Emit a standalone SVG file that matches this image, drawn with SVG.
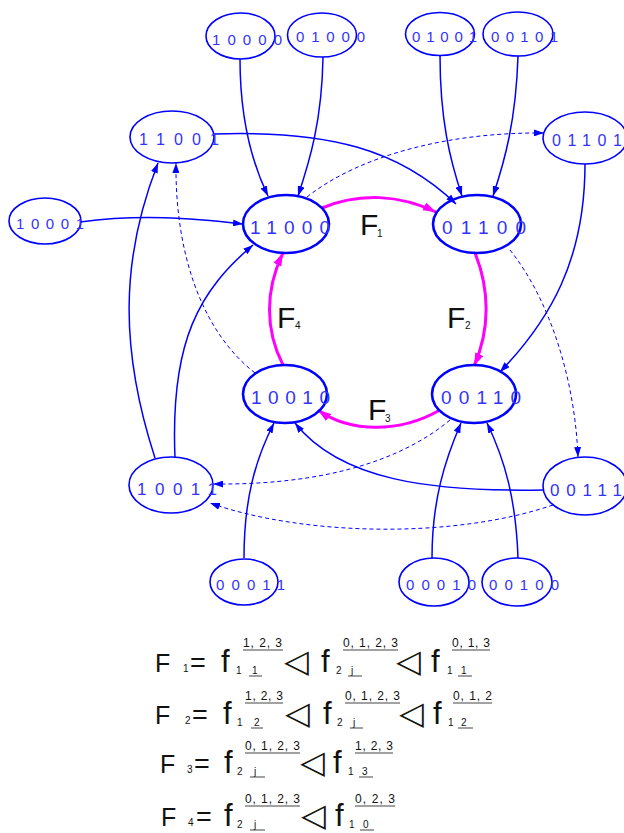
<svg xmlns="http://www.w3.org/2000/svg" width="624" height="833" viewBox="0 0 624 833">
<style>
.n{fill:none;stroke:#0000ff;stroke-width:1.6}
.nb{fill:none;stroke:#0000ff;stroke-width:2.6}
.l{font-family:"Liberation Sans",Arial,sans-serif;fill:#3333ff}
.e{fill:none;stroke:#0000ff;stroke-width:1.5}
.d{fill:none;stroke:#0000ff;stroke-width:1;stroke-dasharray:4,3}
.m{fill:none;stroke:#ff00ff;stroke-width:3}
.t{font-family:"Liberation Sans",Arial,sans-serif;fill:#111}
.u{stroke:#444;stroke-width:1}
.tri{font-family:"DejaVu Sans",sans-serif;fill:#111}
</style>
<defs>
<marker id="ab" viewBox="0 0 10 7" refX="10" refY="3.5" markerWidth="10" markerHeight="7" markerUnits="userSpaceOnUse" orient="auto"><path d="M0,0 L10,3.5 L0,7 z" fill="#0000ff"/></marker>
<marker id="am" viewBox="0 0 12 8" refX="12" refY="4" markerWidth="13" markerHeight="9" markerUnits="userSpaceOnUse" orient="auto"><path d="M0,0 L12,4 L0,8 z" fill="#ff00ff"/></marker>
</defs>
<g id="connectors">
<path class="e" marker-end="url(#ab)" d="M240,59 C240,120 253,165 268,196"/>
<path class="e" marker-end="url(#ab)" d="M323,57 C322,120 310,160 298,196"/>
<path class="e" marker-end="url(#ab)" d="M440,55 C440,120 450,160 462,196"/>
<path class="e" marker-end="url(#ab)" d="M518,56 C516,120 505,160 493,196"/>
<path class="e" marker-end="url(#ab)" d="M214,134 C330,130 400,150 456,204"/>
<path class="e" marker-end="url(#ab)" d="M80,222 C140,214 190,218 243,224"/>
<path class="e" marker-end="url(#ab)" d="M585,164 C585,260 550,320 500,372"/>
<path class="e" marker-end="url(#ab)" d="M155,458 C120,350 120,260 158,163"/>
<path class="e" marker-end="url(#ab)" d="M175,458 C170,340 200,290 253,245"/>
<path class="e" marker-end="url(#ab)" d="M244,558 C244,500 255,460 274,423"/>
<path class="e" marker-end="url(#ab)" d="M543,490 C430,492 340,480 295,423"/>
<path class="e" marker-end="url(#ab)" d="M432,558 C432,500 445,460 461,423"/>
<path class="e" marker-end="url(#ab)" d="M518,558 C516,500 505,460 487,423"/>
<path class="d" marker-end="url(#ab)" d="M307,197 C360,155 450,132 544,133"/>
<path class="d" marker-end="url(#ab)" d="M510,250 C550,300 575,380 578,457"/>
<path class="d" marker-end="url(#ab)" d="M255,373 C200,330 175,250 176,163"/>
<path class="d" marker-end="url(#ab)" d="M450,420 C390,470 300,485 213,484"/>
<path class="d" marker-end="url(#ab)" d="M553,505 C450,540 300,535 210,503"/>
<path class="m" marker-end="url(#am)" d="M322,208 C360,192 400,195 436,212"/>
<path class="m" marker-end="url(#am)" d="M475,253 C490,290 490,330 474,366"/>
<path class="m" marker-end="url(#am)" d="M440,410 C400,433 350,433 318,410"/>
<path class="m" marker-end="url(#am)" d="M283,365 C265,330 265,290 283,253"/>
</g>
<g id="n10000"><ellipse class="n" cx="240.5" cy="36" rx="34.5" ry="23"/><text class="l" x="212" y="45" font-size="15" textLength="70" lengthAdjust="spacing">10000</text></g>
<g id="n01000"><ellipse class="n" cx="322" cy="35" rx="34.5" ry="22"/><text class="l" x="296" y="42" font-size="15" textLength="69" lengthAdjust="spacing">01000</text></g>
<g id="n01001"><ellipse class="n" cx="440" cy="34" rx="34.5" ry="21.5"/><text class="l" x="412" y="42" font-size="15" textLength="65" lengthAdjust="spacing">01001</text></g>
<g id="n00101"><ellipse class="n" cx="518" cy="34" rx="35" ry="22"/><text class="l" x="491" y="42" font-size="15" textLength="67" lengthAdjust="spacing">00101</text></g>
<g id="n11001"><ellipse class="n" cx="172" cy="137" rx="42" ry="26"/><text class="l" x="139" y="145" font-size="16" textLength="80" lengthAdjust="spacing">11001</text></g>
<g id="n10001"><ellipse class="n" cx="45" cy="221" rx="36" ry="23"/><text class="l" x="16" y="229" font-size="15" textLength="68" lengthAdjust="spacing">10001</text></g>
<g id="n11000"><ellipse class="nb" cx="286" cy="224" rx="43" ry="29"/><text class="l" x="250" y="234" font-size="19" textLength="80" lengthAdjust="spacing">11000</text></g>
<g id="n01100"><ellipse class="nb" cx="477" cy="224" rx="44" ry="29"/><text class="l" x="442" y="234" font-size="19" textLength="84" lengthAdjust="spacing">01100</text></g>
<g id="n01101"><ellipse class="n" cx="585" cy="138" rx="42" ry="26"/><text class="l" x="552" y="146" font-size="16" textLength="70" lengthAdjust="spacing">01101</text></g>
<g id="n10010"><ellipse class="nb" cx="285" cy="394" rx="42" ry="29"/><text class="l" x="251" y="404" font-size="19" textLength="79" lengthAdjust="spacing">10010</text></g>
<g id="n00110"><ellipse class="nb" cx="474" cy="394" rx="42" ry="29"/><text class="l" x="441" y="404" font-size="19" textLength="80" lengthAdjust="spacing">00110</text></g>
<g id="n10011"><ellipse class="n" cx="171" cy="485" rx="42" ry="28"/><text class="l" x="137" y="495" font-size="17" textLength="80" lengthAdjust="spacing">10011</text></g>
<g id="n00011"><ellipse class="n" cx="244" cy="582" rx="34" ry="23"/><text class="l" x="216" y="590" font-size="15" textLength="69" lengthAdjust="spacing">00011</text></g>
<g id="n00111"><ellipse class="n" cx="585" cy="486" rx="42" ry="29"/><text class="l" x="550" y="496" font-size="17" textLength="72" lengthAdjust="spacing">00111</text></g>
<g id="n00010"><ellipse class="n" cx="434" cy="582" rx="35" ry="24"/><text class="l" x="406" y="590" font-size="15" textLength="70" lengthAdjust="spacing">00010</text></g>
<g id="n00100"><ellipse class="n" cx="517" cy="582" rx="35" ry="24"/><text class="l" x="489" y="590" font-size="15" textLength="70" lengthAdjust="spacing">00100</text></g>
<g id="labels">
<text class="t" x="360" y="235" font-size="30">F</text><text class="t" x="377" y="237" font-size="10">1</text>
<text class="t" x="447" y="328" font-size="30">F</text><text class="t" x="465" y="329" font-size="10">2</text>
<text class="t" x="368" y="420" font-size="30">F</text><text class="t" x="385" y="422" font-size="10">3</text>
<text class="t" x="277" y="328" font-size="30">F</text><text class="t" x="295" y="329" font-size="10">4</text>
</g>
<g id="formulas">
<text class="t" x="155" y="672" font-size="25">F</text><text class="t" x="183" y="672" font-size="10">1</text><text class="t" x="190" y="672" font-size="27">=</text>
<text class="t" x="221" y="672" font-size="31">f</text><text class="t" x="236" y="674" font-size="10">1</text><text class="t" x="252" y="674" font-size="10">1</text><line class="u" x1="249" y1="676" x2="262" y2="676"/>
<text class="t" x="243" y="647" font-size="12" textLength="39" lengthAdjust="spacing">1, 2, 3</text><line class="u" x1="243" y1="650" x2="283" y2="650"/>
<text class="tri" x="284" y="672" font-size="32">◁</text>
<text class="t" x="321" y="672" font-size="31">f</text><text class="t" x="336" y="674" font-size="10">2</text><text class="t" x="351" y="674" font-size="10">j</text><line class="u" x1="348" y1="676" x2="362" y2="676"/>
<text class="t" x="343" y="647" font-size="12" textLength="55" lengthAdjust="spacing">0, 1, 2, 3</text><line class="u" x1="343" y1="650" x2="398" y2="650"/>
<text class="tri" x="396" y="672" font-size="32">◁</text>
<text class="t" x="431" y="672" font-size="31">f</text><text class="t" x="447" y="674" font-size="10">1</text><text class="t" x="461" y="674" font-size="10">1</text><line class="u" x1="458" y1="676" x2="472" y2="676"/>
<text class="t" x="452" y="647" font-size="12" textLength="38" lengthAdjust="spacing">0, 1, 3</text><line class="u" x1="452" y1="650" x2="490" y2="650"/>

<text class="t" x="155" y="724" font-size="25">F</text><text class="t" x="185" y="724" font-size="10">2</text><text class="t" x="192" y="724" font-size="27">=</text>
<text class="t" x="223" y="724" font-size="31">f</text><text class="t" x="237" y="726" font-size="10">1</text><text class="t" x="254" y="726" font-size="10">2</text><line class="u" x1="251" y1="728" x2="263" y2="728"/>
<text class="t" x="245" y="700" font-size="12" textLength="38" lengthAdjust="spacing">1, 2, 3</text><line class="u" x1="245" y1="703" x2="283" y2="703"/>
<text class="tri" x="285" y="724" font-size="32">◁</text>
<text class="t" x="323" y="724" font-size="31">f</text><text class="t" x="337" y="726" font-size="10">2</text><text class="t" x="353" y="726" font-size="10">j</text><line class="u" x1="350" y1="728" x2="363" y2="728"/>
<text class="t" x="345" y="700" font-size="12" textLength="55" lengthAdjust="spacing">0, 1, 2, 3</text><line class="u" x1="345" y1="703" x2="400" y2="703"/>
<text class="tri" x="399" y="724" font-size="32">◁</text>
<text class="t" x="433" y="724" font-size="31">f</text><text class="t" x="448" y="726" font-size="10">1</text><text class="t" x="461" y="726" font-size="10">2</text><line class="u" x1="458" y1="728" x2="473" y2="728"/>
<text class="t" x="453" y="700" font-size="12" textLength="39" lengthAdjust="spacing">0, 1, 2</text><line class="u" x1="453" y1="703" x2="492" y2="703"/>

<text class="t" x="160" y="773" font-size="25">F</text><text class="t" x="187" y="773" font-size="10">3</text><text class="t" x="194" y="773" font-size="27">=</text>
<text class="t" x="224" y="773" font-size="31">f</text><text class="t" x="237" y="775" font-size="10">2</text><text class="t" x="254" y="775" font-size="10">j</text><line class="u" x1="250" y1="777" x2="265" y2="777"/>
<text class="t" x="245" y="750" font-size="12" textLength="55" lengthAdjust="spacing">0, 1, 2, 3</text><line class="u" x1="245" y1="753" x2="300" y2="753"/>
<text class="tri" x="300" y="773" font-size="32">◁</text>
<text class="t" x="333" y="773" font-size="31">f</text><text class="t" x="348" y="775" font-size="10">1</text><text class="t" x="362" y="775" font-size="10">3</text><line class="u" x1="359" y1="777" x2="373" y2="777"/>
<text class="t" x="355" y="750" font-size="12" textLength="38" lengthAdjust="spacing">1, 2, 3</text><line class="u" x1="355" y1="753" x2="393" y2="753"/>

<text class="t" x="161" y="826" font-size="25">F</text><text class="t" x="188" y="826" font-size="10">4</text><text class="t" x="196" y="826" font-size="27">=</text>
<text class="t" x="224" y="826" font-size="31">f</text><text class="t" x="237" y="828" font-size="10">2</text><text class="t" x="254" y="828" font-size="10">j</text><line class="u" x1="250" y1="830" x2="265" y2="830"/>
<text class="t" x="245" y="803" font-size="12" textLength="55" lengthAdjust="spacing">0, 1, 2, 3</text><line class="u" x1="245" y1="806" x2="300" y2="806"/>
<text class="tri" x="301" y="826" font-size="32">◁</text>
<text class="t" x="335" y="826" font-size="31">f</text><text class="t" x="349" y="828" font-size="10">1</text><text class="t" x="363" y="828" font-size="10">0</text><line class="u" x1="360" y1="830" x2="374" y2="830"/>
<text class="t" x="355" y="803" font-size="12" textLength="40" lengthAdjust="spacing">0, 2, 3</text><line class="u" x1="355" y1="806" x2="395" y2="806"/>
</g>
</svg>
